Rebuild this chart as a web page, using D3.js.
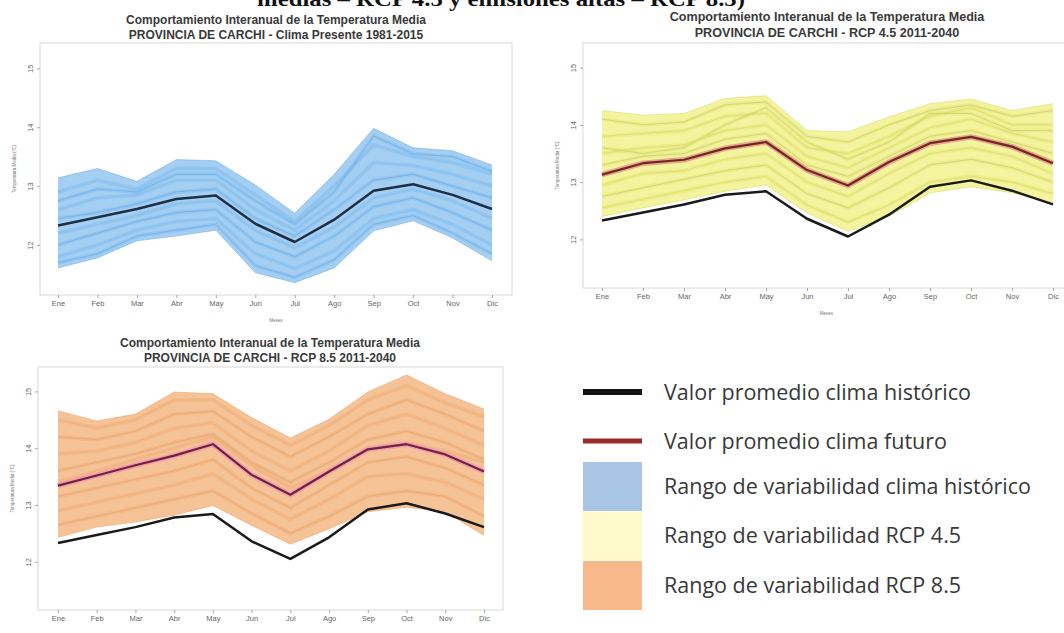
<!DOCTYPE html>
<html>
<head>
<meta charset="utf-8">
<script src="https://cdn.jsdelivr.net/npm/d3@7"></script>
<style>
  body { margin: 0; background: #fff; }
  svg { display: block; font-family: "Liberation Sans", Arial, sans-serif; }
</style>
</head>
<body>
<svg id="chart"></svg>
<script>
// Width and height for the SVG
var width = 1064, height = 633;

// Months and y ticks
var months = ["Ene", "Feb", "Mar", "Abr", "May", "Jun", "Jul", "Ago", "Sep", "Oct", "Nov", "Dic"];
var yTicks = [12, 13, 14, 15];

// Historical climate 1981-2015 (°C)
var histMean  = [12.33, 12.47, 12.61, 12.78, 12.84, 12.36, 12.05, 12.43, 12.92, 13.03, 12.85, 12.61];
var histUpper = [13.14, 13.30, 13.08, 13.45, 13.43, 13.02, 12.54, 13.20, 13.98, 13.65, 13.60, 13.36];
var histLower = [11.61, 11.78, 12.07, 12.15, 12.25, 11.53, 11.36, 11.61, 12.24, 12.41, 12.12, 11.73];
var histMembers = [
  [12.90, 13.10, 12.95, 13.30, 13.30, 12.85, 12.40, 13.00, 13.70, 13.50, 13.40, 13.20],
  [12.75, 12.95, 12.90, 13.20, 13.20, 12.75, 12.35, 12.90, 13.85, 13.55, 13.50, 13.25],
  [12.60, 12.80, 12.85, 13.10, 13.10, 12.60, 12.25, 12.75, 13.40, 13.35, 13.20, 13.00],
  [12.45, 12.55, 12.70, 12.90, 12.95, 12.45, 12.15, 12.60, 13.10, 13.20, 13.00, 12.80],
  [12.20, 12.35, 12.50, 12.70, 12.75, 12.25, 11.95, 12.30, 12.80, 12.95, 12.75, 12.45],
  [12.00, 12.20, 12.40, 12.55, 12.60, 12.05, 11.80, 12.15, 12.65, 12.80, 12.55, 12.25],
  [11.80, 12.00, 12.25, 12.40, 12.45, 11.85, 11.60, 11.90, 12.45, 12.60, 12.35, 12.00],
  [11.70, 11.85, 12.15, 12.25, 12.35, 11.65, 11.45, 11.75, 12.35, 12.50, 12.20, 11.85]
];

// RCP 4.5 2011-2040 (°C)
var rcp45Mean  = [13.13, 13.33, 13.39, 13.59, 13.70, 13.21, 12.94, 13.35, 13.68, 13.79, 13.62, 13.33];
var rcp45Upper = [14.25, 14.17, 14.20, 14.46, 14.51, 13.90, 13.88, 14.14, 14.37, 14.45, 14.25, 14.37];
var rcp45Lower = [12.40, 12.55, 12.69, 12.84, 12.95, 12.46, 12.14, 12.40, 12.81, 12.92, 12.81, 12.64];
var rcp45Members = [
  [14.10, 14.00, 14.05, 14.35, 14.40, 13.80, 13.70, 14.00, 14.25, 14.35, 14.15, 14.25],
  [13.80, 13.85, 13.90, 14.15, 14.20, 13.60, 13.50, 13.80, 14.15, 14.30, 14.00, 14.00],
  [13.60, 13.50, 13.60, 14.00, 14.30, 13.70, 13.40, 13.70, 14.20, 14.20, 13.90, 13.90],
  [13.50, 13.60, 13.65, 13.90, 14.00, 13.45, 13.25, 13.60, 13.95, 14.10, 13.85, 13.70],
  [13.30, 13.45, 13.50, 13.75, 13.85, 13.30, 13.10, 13.45, 13.80, 13.90, 13.70, 13.50],
  [12.95, 13.15, 13.20, 13.40, 13.50, 13.00, 12.75, 13.15, 13.50, 13.60, 13.45, 13.15],
  [12.75, 12.90, 13.05, 13.20, 13.30, 12.80, 12.55, 12.90, 13.30, 13.40, 13.25, 13.00],
  [12.55, 12.70, 12.85, 13.00, 13.10, 12.60, 12.30, 12.60, 13.00, 13.10, 13.00, 12.80]
];

// RCP 8.5 2011-2040 (°C)
var rcp85Mean  = [13.34, 13.52, 13.70, 13.87, 14.07, 13.53, 13.18, 13.59, 13.98, 14.07, 13.89, 13.59];
var rcp85Upper = [14.66, 14.48, 14.60, 14.99, 14.96, 14.54, 14.18, 14.51, 14.99, 15.29, 14.96, 14.69];
var rcp85Lower = [12.43, 12.61, 12.70, 12.82, 12.99, 12.64, 12.31, 12.58, 12.88, 12.96, 12.88, 12.46];
var rcp85Members = [
  [14.50, 14.35, 14.50, 14.85, 14.85, 14.40, 14.05, 14.40, 14.85, 15.10, 14.80, 14.55],
  [14.20, 14.15, 14.30, 14.60, 14.65, 14.20, 13.85, 14.20, 14.60, 14.85, 14.60, 14.30],
  [13.90, 13.95, 14.10, 14.35, 14.45, 13.95, 13.60, 13.95, 14.40, 14.60, 14.35, 14.05],
  [13.60, 13.75, 13.90, 14.10, 14.25, 13.75, 13.40, 13.75, 14.15, 14.30, 14.10, 13.80],
  [13.40, 13.60, 13.80, 14.00, 14.20, 13.70, 13.30, 13.60, 14.00, 14.10, 13.95, 13.75],
  [13.15, 13.30, 13.45, 13.60, 13.80, 13.30, 12.95, 13.35, 13.75, 13.85, 13.65, 13.35],
  [12.90, 13.05, 13.20, 13.35, 13.55, 13.10, 12.75, 13.10, 13.50, 13.55, 13.40, 13.10],
  [12.65, 12.80, 12.95, 13.10, 13.25, 12.85, 12.50, 12.80, 13.15, 13.25, 13.15, 12.80]
];

// Legend labels
var legendLabels = [
  "Valor promedio clima histórico",
  "Valor promedio clima futuro",
  "Rango de variabilidad clima histórico",
  "Rango de variabilidad RCP 4.5",
  "Rango de variabilidad RCP 8.5"
];

var svg = d3.select("#chart")
  .attr("width", width)
  .attr("height", height);

svg.append("rect").attr("width", width).attr("height", height).attr("fill", "#fff");

// Caption of the document, cut at the top edge as in the source picture
svg.append("text")
  .attr("x", 257).attr("y", 6)
  .attr("textLength", 488).attr("lengthAdjust", "spacingAndGlyphs")
  .style("font-family", "'Liberation Serif', 'DejaVu Serif', serif")
  .style("font-weight", "bold")
  .style("font-size", "22px")
  .attr("fill", "#111")
  .text("medias – RCP 4.5 y emisiones altas – RCP 8.5)");

function drawPanel(p) {
  var x = d3.scalePoint().domain(months).range([p.x0, p.x1]);
  var y = d3.scaleLinear().domain([11.15, 15.43]).range([p.bottom, p.top]);
  var g = svg.append("g");

  // titles
  g.append("text")
    .attr("x", p.cx).attr("y", p.titleY)
    .attr("text-anchor", "middle")
    .style("font-size", p.titleSize + "px").style("font-weight", "bold")
    .attr("fill", "#3a3a3a")
    .text("Comportamiento Interanual de la Temperatura Media");
  g.append("text")
    .attr("x", p.cx).attr("y", p.titleY + p.titleGap)
    .attr("text-anchor", "middle")
    .style("font-size", p.titleSize + "px").style("font-weight", "bold")
    .attr("fill", "#3a3a3a")
    .text(p.subtitle);

  // frame
  g.append("rect")
    .attr("x", p.left).attr("y", p.top)
    .attr("width", p.right - p.left).attr("height", p.bottom - p.top)
    .attr("fill", "none").attr("stroke", "#d8d8d8");

  // variability band
  var area = d3.area()
    .x(function(d, i) { return x(months[i]); })
    .y0(function(d, i) { return y(p.lower[i]); })
    .y1(function(d) { return y(d); });
  g.append("path")
    .datum(p.upper)
    .attr("d", area)
    .attr("fill", p.bandColor);

  var line = d3.line()
    .x(function(d, i) { return x(months[i]); })
    .y(function(d) { return y(d); });

  // envelope edges and members
  [p.upper, p.lower].forEach(function(s) {
    g.append("path").datum(s).attr("d", line)
      .attr("fill", "none").attr("stroke", p.memberColor)
      .attr("stroke-width", 1).attr("stroke-opacity", 0.5);
  });
  p.members.forEach(function(s, k) {
    g.append("path").datum(s).attr("d", line)
      .attr("fill", "none").attr("stroke", p.memberColor)
      .attr("stroke-width", 4).attr("stroke-opacity", 0.25);
    g.append("path").datum(s).attr("d", line)
      .attr("fill", "none").attr("stroke", k % 2 ? p.memberColor : p.memberColor2)
      .attr("stroke-width", 0.9).attr("stroke-opacity", 0.7);
  });

  // future mean
  if (p.futureMean) {
    g.append("path").datum(p.futureMean).attr("d", line)
      .attr("fill", "none").attr("stroke", p.haloColor)
      .attr("stroke-width", 5.5).attr("stroke-linejoin", "round");
    g.append("path").datum(p.futureMean).attr("d", line)
      .attr("fill", "none").attr("stroke", p.futureColor)
      .attr("stroke-width", 2.2).attr("stroke-linejoin", "round");
  }

  // historical mean
  g.append("path").datum(histMean).attr("d", line)
    .attr("fill", "none").attr("stroke", p.histColor)
    .attr("stroke-width", 2.5).attr("stroke-linejoin", "round");

  // axes
  var yAxis = g.append("g")
    .attr("transform", "translate(" + p.left + ",0)")
    .call(d3.axisLeft(y).tickValues(yTicks).tickSize(3).tickFormat(d3.format("d")));
  yAxis.select(".domain").remove();
  yAxis.selectAll("line").attr("stroke", "#aaa");
  yAxis.selectAll("text")
    .attr("transform", "rotate(-90)")
    .attr("x", 0).attr("y", -7).attr("dy", 0)
    .attr("text-anchor", "middle")
    .style("font-size", "7.5px").attr("fill", "#666");

  var xAxis = g.append("g")
    .attr("transform", "translate(0," + p.bottom + ")")
    .call(d3.axisBottom(x).tickSize(3));
  xAxis.select(".domain").remove();
  xAxis.selectAll("line").attr("stroke", "#aaa");
  xAxis.selectAll("text")
    .style("font-size", "7.5px").attr("fill", "#666");

  // axis titles
  g.append("text")
    .attr("transform", "translate(" + (p.left - 24) + "," + ((p.top + p.bottom) / 2) + ") rotate(-90)")
    .attr("text-anchor", "middle")
    .style("font-size", "4.5px").attr("fill", "#777")
    .text("Temperatura Media (°C)");
  if (p.showXTitle) {
    g.append("text")
      .attr("x", (p.left + p.right) / 2).attr("y", p.bottom + 27)
      .attr("text-anchor", "middle")
      .style("font-size", "4.5px").attr("fill", "#777")
      .text("Meses");
  }
}

drawPanel({
  subtitle: "PROVINCIA DE CARCHI - Clima Presente 1981-2015",
  cx: 276, titleY: 24, titleGap: 15, titleSize: 12, showXTitle: true,
  left: 40, right: 512, top: 43, bottom: 295, x0: 58, x1: 492,
  upper: histUpper, lower: histLower, members: histMembers,
  bandColor: "#a4cff3", memberColor: "#66abe6", memberColor2: "#86bdec",
  histColor: "#1c2f45"
});

drawPanel({
  subtitle: "PROVINCIA DE CARCHI - RCP 4.5 2011-2040",
  cx: 827, titleY: 21, titleGap: 16, titleSize: 12.6, showXTitle: true,
  left: 583, right: 1070, top: 43, bottom: 288, x0: 602, x1: 1053,
  upper: rcp45Upper, lower: rcp45Lower, members: rcp45Members,
  bandColor: "#f4f49e", memberColor: "#d8d85e", memberColor2: "#c3ca68",
  futureMean: rcp45Mean, futureColor: "#6e2a22", haloColor: "#eaa58a",
  histColor: "#1a1a1a"
});

drawPanel({
  subtitle: "PROVINCIA DE CARCHI - RCP 8.5 2011-2040",
  cx: 270, titleY: 347, titleGap: 15, titleSize: 12, showXTitle: false,
  left: 38, right: 503, top: 367, bottom: 610, x0: 58, x1: 484,
  upper: rcp85Upper, lower: rcp85Lower, members: rcp85Members,
  bandColor: "#f6c396", memberColor: "#e8a066", memberColor2: "#efb078",
  futureMean: rcp85Mean, futureColor: "#6e2440", haloColor: "#f3a0ac",
  histColor: "#1a1a1a"
});

// Legend
var legendColors = ["#111111", "#9b2a2a", "#a9c5e6", "#fffacb", "#f8b98a"];
var legend = svg.append("g").attr("transform", "translate(583,0)");
legendLabels.forEach(function(label, i) {
  var cy = 392 + i * 49;
  if (i < 2) {
    legend.append("rect")
      .attr("x", 0).attr("y", cy - (i === 0 ? 3 : 2.5))
      .attr("width", 59).attr("height", i === 0 ? 6 : 5)
      .attr("fill", legendColors[i]);
  } else {
    legend.append("rect")
      .attr("x", 0).attr("y", 462 + (i - 2) * 49.5)
      .attr("width", 59).attr("height", 49)
      .attr("fill", legendColors[i]);
  }
  legend.append("text")
    .attr("x", 81).attr("y", (i < 2 ? cy : 486 + (i - 2) * 49.5))
    .attr("dy", "0.35em")
    .style("font-family", "'Open Sans', 'Noto Sans', sans-serif")
    .style("font-size", "21.5px")
    .attr("fill", "#383838")
    .text(label);
});
</script>
</body>
</html>
